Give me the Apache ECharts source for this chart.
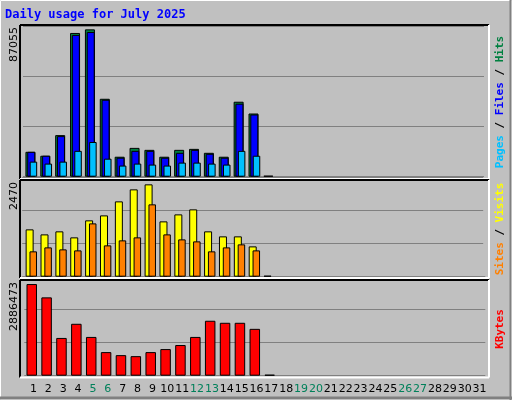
<!DOCTYPE html>
<html><head><meta charset="utf-8">
<script src="https://cdn.jsdelivr.net/npm/echarts@6/dist/echarts.min.js"></script>
<style>html,body{margin:0;padding:0;background:#c0c0c0}#c{width:512px;height:400px}</style>
</head><body><div id="c"></div>
<script>
const days = Array.from({length:31},(_,i)=>String(i+1));
const weekendDays = ['5','6','12','13','19','20','26','27'];
const hits = [14703,12381,24569,84929,87055,46043,11801,17024,15864,11801,15864,16444,14122,11801,44302,37338,0];
const files = [14703,12381,23989,83768,85509,45463,11221,15283,15283,11221,14122,15864,13542,11221,43141,36757];
const pages = [8899,7738,8899,15283,20507,10640,6578,7738,7158,6578,8319,8319,7738,7158,15283,12381];
const visits = [1266,1132,1213,1052,1507,1640,2015,2336,2470,1480,1667,1801,1213,1079,1079,811,0];
const sites = [678,784,731,704,1426,838,972,1052,1935,1132,998,945,678,784,865,704];
const kbytes = [2886473,2466623,1188700,1634471,1220588,742954,647432,615591,742954,838477,965841,1220588,1730014,1666311,1666311,1475266,0];
const maxLabels = ['87055','2470','2886473'];

const L = 26, W = 461;
const panels = [
  {top:26.7, h:150, max:88631},
  {top:177.7, h:99, max:2648},
  {top:276.7, h:99, max:3117390}
];
const grids=[], xAxes=[], yAxes=[], series=[];
function addSeries(panel, off, bw, data, color, showGrid, showLabels){
  const p = panels[panel];
  const gi = grids.length;
  grids.push({left:L+off, top:p.top, width:W, height:p.h, containLabel:false});
  xAxes.push({type:'category', gridIndex:gi, data:days, boundaryGap:true,
    axisLine:{show:false}, axisTick:{show:false},
    axisLabel:{show:showLabels, interval:0, margin:8, fontFamily:'DejaVu Sans', fontSize:11,
      color:(v)=>weekendDays.includes(v)?'#00805a':'#000'}});
  yAxes.push({type:'value', gridIndex:gi, min:0, max:p.max, interval:p.max/3,
    axisLabel:{show:false}, axisLine:{show:false}, axisTick:{show:false},
    splitLine:{show:showGrid, lineStyle:{color:'#808080', width:1}}});
  series.push({type:'bar', xAxisIndex:gi, yAxisIndex:gi, data:data, barWidth:bw, barMinHeight: showGrid?1:0,
    itemStyle:{color:color, borderColor:'#000', borderWidth:1}, animation:false, silent:true});
}
addSeries(0,-3,10,hits,'#008040',true,false);
addSeries(0,-2.2,8,files,'#0000ff',false,false);
addSeries(0,0,7.5,pages,'#00c0ff',false,false);
addSeries(1,-3.8,8,visits,'#ffff00',true,false);
addSeries(1,-0.2,7.5,sites,'#ff8000',false,false);
addSeries(2,-1.7,10.5,kbytes,'#ff0000',true,false);
addSeries(2,0,1,[],'#000',false,true);

function panelFrame(y1,y2){
  return [
    {type:'line',shape:{x1:20,y1:y1,x2:489,y2:y1},style:{stroke:'#000',lineWidth:2},z:10},
    {type:'line',shape:{x1:20,y1:y1,x2:20,y2:y2},style:{stroke:'#000',lineWidth:2},z:10},
    {type:'line',shape:{x1:20,y1:y2,x2:489,y2:y2},style:{stroke:'#fff',lineWidth:2},z:10},
    {type:'line',shape:{x1:489,y1:y1,x2:489,y2:y2},style:{stroke:'#fff',lineWidth:2},z:10}
  ];
}
const mono='DejaVu Sans Mono';
function sideLabel(y, parts){
  const rich={}; let text='';
  parts.forEach((p,i)=>{rich['s'+i]={fill:p[1],fontFamily:mono,fontSize:11,fontWeight:'bold'}; text+='{s'+i+'|'+p[0]+'}';});
  return {type:'text',x:500,y:y,rotation:Math.PI/2,style:{text:text,rich:rich,align:'center',verticalAlign:'middle'}};
}
function maxLabel(y, t){
  return {type:'text',x:14,y:y,rotation:Math.PI/2,style:{text:t,fontFamily:'DejaVu Sans',fontSize:11,fill:'#000',align:'right',verticalAlign:'middle'}};
}
const graphic = [
  {type:'rect',shape:{x:0.5,y:0.5,width:511,height:399},style:{fill:'none',stroke:'#fff',lineWidth:1},z:-2},
  {type:'line',shape:{x1:0,y1:398,x2:512,y2:398},style:{stroke:'#808080',lineWidth:3},z:-2},
  {type:'line',shape:{x1:510.5,y1:0,x2:510.5,y2:400},style:{stroke:'#808080',lineWidth:2},z:-2},
  ...panelFrame(25,179), ...panelFrame(180,278), ...panelFrame(280,377.5),
  {type:'text',x:5,y:9,style:{text:'Daily usage for July 2025',fontFamily:mono,fontSize:12,fontWeight:'bold',fill:'#0000ff'}},
  sideLabel(102,[['Pages','#00c0ff'],[' / ','#000'],['Files','#0000ff'],[' / ','#000'],['Hits','#008040']]),
  sideLabel(229,[['Sites','#ff8000'],[' / ','#000'],['Visits','#ffff00']]),
  sideLabel(329,[['KBytes','#ff0000']]),
  maxLabel(27,maxLabels[0]), maxLabel(182,maxLabels[1]), maxLabel(282,maxLabels[2])
];
const chart = echarts.init(document.getElementById('c'));
chart.setOption({backgroundColor:'#c0c0c0', animation:false, grid:grids, xAxis:xAxes, yAxis:yAxes, series:series, graphic:graphic});
</script></body></html>
